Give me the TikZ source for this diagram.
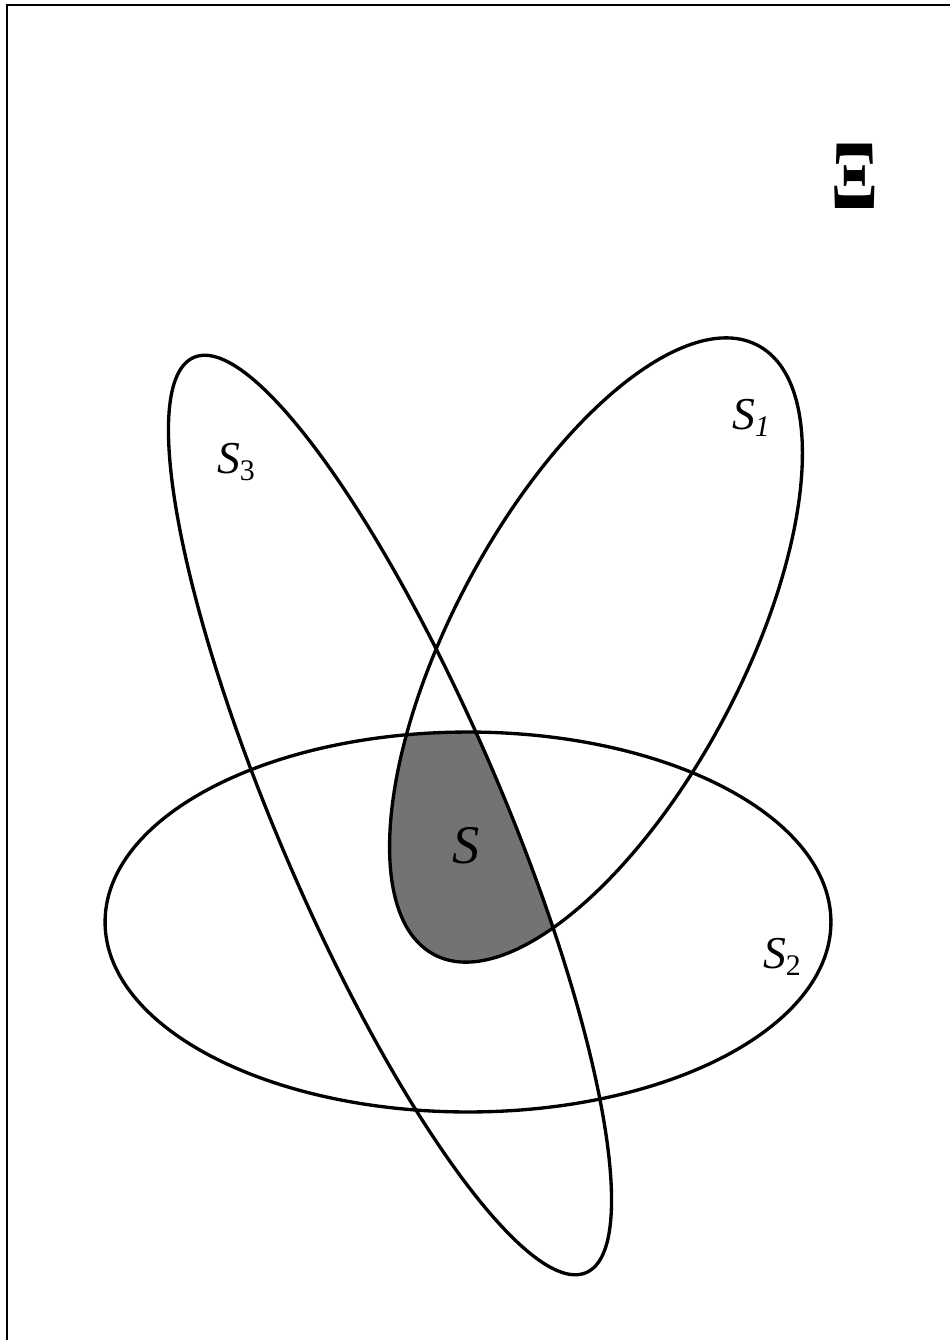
\documentclass[tikz,border=0pt]{standalone}
\usepackage{fontspec}
\setmainfont{Liberation Serif}
\begin{document}
\begin{tikzpicture}[x=0.02cm,y=-0.02cm,
  setline/.style={line width=1.9pt},
  setlabel/.style={inner sep=0pt, font=\fontsize{26}{30}\selectfont\itshape},
  frameline/.style={line width=1.2pt}]
\useasboundingbox (0,0) rectangle (950,1340);
\def\pathSone{[shift={(596,650)}, rotate=62] (0,0) ellipse [x radius=6.9cm, y radius=2.9cm]}
\def\pathStwo{(468,922) ellipse [x radius=7.26cm, y radius=3.8cm]}
\def\pathSthree{[shift={(390,815)}, rotate=-66.8] (0,0) ellipse [x radius=9.96cm, y radius=2.24cm]}
% frame
\coordinate (fTL) at (7,5);
\coordinate (fTR) at (950,5);
\coordinate (fBL) at (7,1340);
\draw[frameline] (fBL) -- (fTL) -- (fTR);
% shaded intersection
\begin{scope}
  \clip \pathSone;
  \clip \pathStwo;
  \fill[black!55] \pathSthree;
\end{scope}
% the three sets
\draw[setline] \pathSone;
\draw[setline] \pathStwo;
\draw[setline] \pathSthree;
% labels
\node[setlabel] (l1) at (751,418) {S\raisebox{-0.35ex}{\fontsize{17}{20}\selectfont 1}};
\node[setlabel] (l2) at (782,957) {S\raisebox{-0.35ex}{\fontsize{17}{20}\selectfont\upshape 2}};
\node[setlabel] (l3) at (236,462) {S\raisebox{-0.35ex}{\fontsize{17}{20}\selectfont\upshape 3}};
\node[setlabel, font=\fontsize{31}{34}\selectfont\itshape] (l0) at (466,846) {S};
\node[inner sep=0pt, font=\fontsize{56}{60}\selectfont\bfseries, xscale=0.7] (xi) at (855,176) {Ξ};
\end{tikzpicture}
\end{document}
